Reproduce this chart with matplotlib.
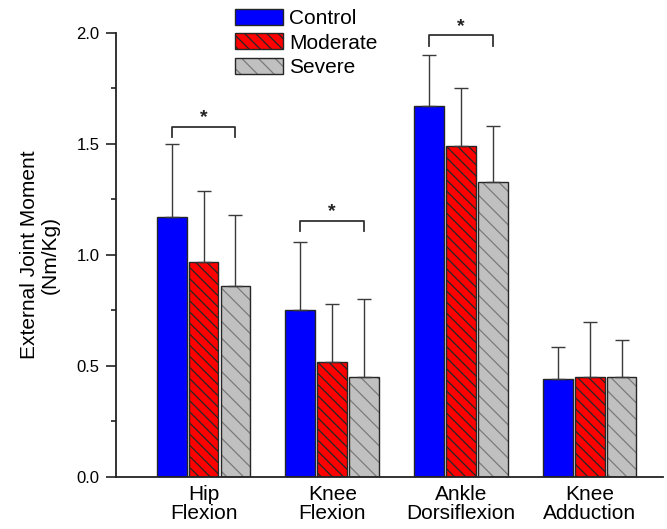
import numpy as np
import matplotlib
matplotlib.use("Agg")
import matplotlib.pyplot as plt
from matplotlib.patches import Patch
from matplotlib.ticker import MultipleLocator

plt.rcParams['font.family'] = ['Liberation Sans', 'DejaVu Sans']
plt.rcParams['hatch.linewidth'] = 0.9

categories = ["Hip\nFlexion", "Knee\nFlexion", "Ankle\nDorsiflexion", "Knee\nAdduction"]
groups = ["Control", "Moderate", "Severe"]

control = [1.17, 0.75, 1.67, 0.44]
moderate = [0.97, 0.52, 1.49, 0.45]
severe = [0.86, 0.45, 1.33, 0.45]

control_sd = [0.33, 0.31, 0.23, 0.145]
moderate_sd = [0.32, 0.26, 0.26, 0.25]
severe_sd = [0.32, 0.35, 0.25, 0.165]

# significance brackets: category index, bracket top, leg bottom
sig_cat = [0, 1, 2]
sig_top = [1.577, 1.155, 1.99]
sig_leg = [1.53, 1.11, 1.94]

edge = "#262626"
x = np.arange(len(categories))
w = 0.232
off = 0.248

fig = plt.figure(figsize=(6.67, 5.29), dpi=100)
ax = fig.add_axes([0.174, 0.0983, 0.82, 0.8394])

err_kw = dict(ecolor="#3a3a3a", elinewidth=1.0, capsize=5, capthick=1.0)
zeros = np.zeros(len(categories))

ax.bar(x - off, control, w, color="#0000FF", edgecolor=edge, linewidth=1.0,
       yerr=[zeros, control_sd], error_kw=err_kw, zorder=2)
ax.bar(x, moderate, w, color="#FF0000", edgecolor=edge, linewidth=1.0,
       hatch="\\\\\\", yerr=[zeros, moderate_sd], error_kw=err_kw, zorder=2)
# severe: gray hatch underneath, dark outline on top
ax.bar(x + off, severe, w, color="#C0C0C0", edgecolor="#7a7a7a", linewidth=0,
       hatch="\\\\", zorder=2)
ax.bar(x + off, severe, w, color="none", edgecolor=edge, linewidth=1.0,
       yerr=[zeros, severe_sd], error_kw=err_kw, zorder=3)

for c, top, leg in zip(sig_cat, sig_top, sig_leg):
    x0, x1 = c - off, c + off
    ax.plot([x0, x0, x1, x1], [leg, top, top, leg], color="#333333", lw=1.3, zorder=4)
    ax.text(c, top + 0.002, "*", ha="center", va="bottom", fontsize=14,
            fontweight="bold", color="#222222")

ax.set_xlim(-0.68, 3.57)
ax.set_ylim(0, 2.0)
ax.set_xticks(x)
ax.set_xticklabels(categories, fontsize=15, linespacing=1.0)
ax.tick_params(axis="x", length=0, pad=6)
ax.yaxis.set_major_locator(MultipleLocator(0.5))
ax.yaxis.set_minor_locator(MultipleLocator(0.25))
ax.tick_params(axis="y", which="major", length=7, width=1.2, labelsize=12,
               color="#222222", pad=5)
ax.tick_params(axis="y", which="minor", length=3.5, width=1.2, color="#222222")
ax.set_ylabel("External Joint Moment\n(Nm/Kg)", fontsize=15, linespacing=1.1, labelpad=12)

for s in ["top", "right"]:
    ax.spines[s].set_visible(False)
for s in ["left", "bottom"]:
    ax.spines[s].set_linewidth(1.3)
    ax.spines[s].set_color("#222222")

handles = [
    Patch(facecolor="#0000FF", edgecolor=edge, linewidth=1.0),
    Patch(facecolor="#FF0000", edgecolor=edge, linewidth=1.0, hatch="\\\\\\"),
    (Patch(facecolor="#C0C0C0", edgecolor="#7a7a7a", linewidth=0, hatch="\\\\"),
     Patch(facecolor="none", edgecolor=edge, linewidth=1.0)),
]
fig.legend(handles, groups, loc="upper left", bbox_to_anchor=(235 / 667, 1 - 9 / 529),
           frameon=False, fontsize=15, borderpad=0, borderaxespad=0,
           handlelength=2.3, handleheight=0.8, handletextpad=0.3, labelspacing=0.25)

fig.savefig("out.png", dpi=100)
